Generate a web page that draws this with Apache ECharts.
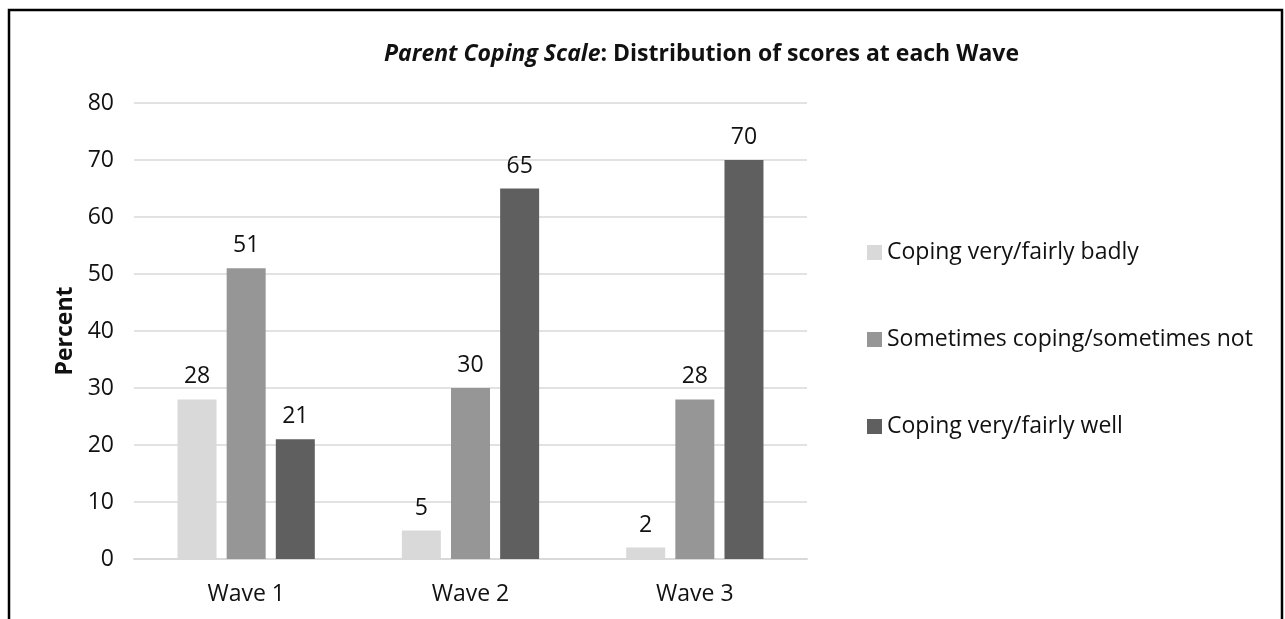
<!DOCTYPE html>
<html>
<head>
<meta charset="utf-8">
<script src="https://cdn.jsdelivr.net/npm/echarts@6/dist/echarts.min.js"></script>
<style>
html,body{margin:0;padding:0;background:#fff;}
#chart{width:1285px;height:619px;}
</style>
</head>
<body>
<div id="chart"></div>
<script>
const categories = ['Wave 1', 'Wave 2', 'Wave 3'];
const seriesNames = ['Coping very/fairly badly', 'Sometimes coping/sometimes not', 'Coping very/fairly well'];
const badly = [28, 5, 2];
const sometimes = [51, 30, 28];
const well = [21, 65, 70];
const yTicks = { min: 0, max: 80, interval: 10 };

const colors = ['#d9d9d9', '#969696', '#5f5f5f'];
const FONT = 'Open Sans';
const FS = 23;

const chart = echarts.init(document.getElementById('chart'), null, { renderer: 'canvas' });

function barSeries(name, data, color) {
  return {
    name: name,
    type: 'bar',
    data: data,
    barWidth: 39,
    barGap: '26%',
    itemStyle: { color: color },
    label: {
      show: true,
      position: 'top',
      distance: 11,
      color: '#111',
      fontFamily: FONT,
      fontSize: FS
    }
  };
}

chart.setOption({
  animation: false,
  backgroundColor: '#fff',
  graphic: [{
    type: 'rect',
    shape: { x: 9, y: 10, width: 1273, height: 700 },
    style: { fill: 'none', stroke: '#000', lineWidth: 2.5 },
    silent: true
  }],
  title: {
    text: '{i|Parent Coping Scale}{b|: Distribution of scores at each Wave}',
    left: 379,
    top: 38,
    textStyle: {
      rich: {
        i: { fontFamily: FONT, fontSize: 23, fontWeight: 'bold', fontStyle: 'italic', color: '#111' },
        b: { fontFamily: FONT, fontSize: 23, fontWeight: 'bold', color: '#111' }
      }
    }
  },
  legend: {
    orient: 'vertical',
    left: 862,
    top: 235,
    itemWidth: 15,
    itemHeight: 15,
    itemGap: 62,
    itemTextGap: 6,
    icon: 'rect',
    textStyle: { fontFamily: FONT, fontSize: FS, color: '#111', lineHeight: 25 },
    data: seriesNames
  },
  grid: { left: 134, right: 1285 - 807, top: 103, bottom: 619 - 559, containLabel: false },
  xAxis: {
    type: 'category',
    data: categories,
    axisLine: { lineStyle: { color: '#d9d9d9', width: 2 } },
    axisTick: { show: false },
    axisLabel: { color: '#111', fontFamily: FONT, fontSize: FS, margin: 24 }
  },
  yAxis: {
    type: 'value',
    min: yTicks.min,
    max: yTicks.max,
    interval: yTicks.interval,
    name: 'Percent',
    nameLocation: 'middle',
    nameGap: 57,
    nameTextStyle: { fontFamily: FONT, fontSize: FS, fontWeight: 'bold', color: '#111' },
    axisLine: { show: false },
    axisTick: { show: false },
    axisLabel: { color: '#111', fontFamily: FONT, fontSize: FS, margin: 20 },
    splitLine: { lineStyle: { color: '#d9d9d9', width: 1.5 } }
  },
  series: [
    barSeries(seriesNames[0], badly, colors[0]),
    barSeries(seriesNames[1], sometimes, colors[1]),
    barSeries(seriesNames[2], well, colors[2])
  ]
});
</script>
</body>
</html>
